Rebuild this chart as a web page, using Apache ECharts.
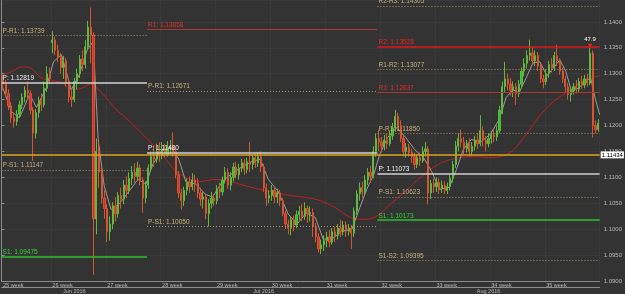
<!DOCTYPE html>
<html>
<head>
<meta charset="utf-8">
<script src="https://cdn.jsdelivr.net/npm/echarts@6/dist/echarts.min.js"></script>
<style>
  html, body { margin: 0; padding: 0; background: #333333; }
  #chart { width: 625px; height: 294px; }
</style>
</head>
<body>
<div id="chart"></div>
<script>
// weeks shown on the time strip, 5 trading days x 4 bars each
const weekNames = ['25 week', '26 week', '27 week', '28 week', '29 week', '30 week',
  '31 week', '32 week', '33 week', '34 week', '35 week'];
const firstMonday = [2016, 5, 13];
const barsPerDay = 4;
const hiddenBars = 2; // first bars of week 25 are scrolled off the left edge
const monthNames = ['Jan', 'Feb', 'Mar', 'Apr', 'May', 'Jun', 'Jul', 'Aug', 'Sep', 'Oct', 'Nov', 'Dec'];

// [open, close, low, high]
const candles = [
  [1.1290, 1.1280, 1.1268, 1.1298], [1.1280, 1.1262, 1.1255, 1.1288], [1.1262, 1.1238, 1.1230, 1.1270],
  [1.1238, 1.1215, 1.1205, 1.1245], [1.1215, 1.1208, 1.1196, 1.1225], [1.1208, 1.1222, 1.1200, 1.1230],
  [1.1222, 1.1240, 1.1215, 1.1248], [1.1240, 1.1255, 1.1232, 1.1262], [1.1255, 1.1268, 1.1245, 1.1276],
  [1.1268, 1.1262, 1.1250, 1.1285], [1.1262, 1.1230, 1.1222, 1.1268], [1.1230, 1.1185, 1.1132, 1.1236],
  [1.1185, 1.1225, 1.1175, 1.1232], [1.1225, 1.1248, 1.1215, 1.1256], [1.1248, 1.1240, 1.1228, 1.1262],
  [1.1240, 1.1272, 1.1235, 1.1285], [1.1272, 1.1300, 1.1265, 1.1315], [1.1300, 1.1290, 1.1280, 1.1312],
  // 26 week
  [1.1360, 1.1365, 1.1340, 1.1382], [1.1365, 1.1345, 1.1336, 1.1372], [1.1345, 1.1332, 1.1322, 1.1356],
  [1.1332, 1.1312, 1.1300, 1.1340], [1.1312, 1.1325, 1.1290, 1.1334], [1.1325, 1.1285, 1.1275, 1.1330],
  [1.1285, 1.1255, 1.1245, 1.1292], [1.1255, 1.1250, 1.1236, 1.1268], [1.1250, 1.1285, 1.1245, 1.1292],
  [1.1285, 1.1300, 1.1270, 1.1310], [1.1300, 1.1328, 1.1292, 1.1336], [1.1328, 1.1318, 1.1305, 1.1345],
  [1.1318, 1.1352, 1.1310, 1.1365], [1.1352, 1.1390, 1.1345, 1.1402], [1.1390, 1.1375, 1.1320, 1.1428],
  [1.1375, 1.1020, 1.0912, 1.1380], [1.1020, 1.1150, 1.0990, 1.1175], [1.1150, 1.1110, 1.1080, 1.1168],
  [1.1110, 1.1060, 1.1050, 1.1120], [1.1060, 1.1040, 1.1020, 1.1075],
  // 27 week
  [1.1040, 1.0995, 1.0975, 1.1048], [1.0995, 1.1010, 1.0978, 1.1025], [1.1010, 1.1045, 1.1000, 1.1052],
  [1.1045, 1.1030, 1.1015, 1.1062], [1.1030, 1.1065, 1.1022, 1.1072], [1.1065, 1.1058, 1.1040, 1.1080],
  [1.1058, 1.1085, 1.1048, 1.1095], [1.1085, 1.1075, 1.1060, 1.1102], [1.1075, 1.1098, 1.1068, 1.1110],
  [1.1098, 1.1110, 1.1085, 1.1122], [1.1110, 1.1102, 1.1090, 1.1128], [1.1102, 1.1118, 1.1095, 1.1130],
  [1.1118, 1.1095, 1.1085, 1.1125], [1.1095, 1.1060, 1.1032, 1.1100], [1.1060, 1.1085, 1.1050, 1.1092],
  [1.1085, 1.1118, 1.1078, 1.1125], [1.1118, 1.1140, 1.1110, 1.1150], [1.1140, 1.1135, 1.1120, 1.1162],
  [1.1135, 1.1150, 1.1128, 1.1165], [1.1150, 1.1142, 1.1130, 1.1168],
  // 28 week
  [1.1142, 1.1155, 1.1135, 1.1168], [1.1155, 1.1145, 1.1138, 1.1165], [1.1145, 1.1158, 1.1140, 1.1170],
  [1.1158, 1.1160, 1.1145, 1.1172], [1.1160, 1.1150, 1.1140, 1.1187], [1.1150, 1.1105, 1.1098, 1.1156],
  [1.1105, 1.1070, 1.1060, 1.1112], [1.1070, 1.1055, 1.1038, 1.1078], [1.1055, 1.1075, 1.1045, 1.1082],
  [1.1075, 1.1090, 1.1065, 1.1098], [1.1090, 1.1082, 1.1070, 1.1102], [1.1082, 1.1095, 1.1075, 1.1108],
  [1.1095, 1.1088, 1.1072, 1.1105], [1.1088, 1.1070, 1.1060, 1.1098], [1.1070, 1.1058, 1.1045, 1.1080],
  [1.1058, 1.1062, 1.1040, 1.1072], [1.1062, 1.1030, 1.1019, 1.1068], [1.1030, 1.1050, 1.1005, 1.1058],
  [1.1050, 1.1060, 1.1040, 1.1072], [1.1060, 1.1055, 1.1045, 1.1068],
  // 29 week
  [1.1055, 1.1078, 1.1048, 1.1085], [1.1078, 1.1072, 1.1060, 1.1090], [1.1072, 1.1095, 1.1065, 1.1102],
  [1.1095, 1.1110, 1.1088, 1.1120], [1.1110, 1.1085, 1.1078, 1.1118], [1.1085, 1.1100, 1.1075, 1.1110],
  [1.1100, 1.1120, 1.1092, 1.1128], [1.1120, 1.1105, 1.1098, 1.1130], [1.1105, 1.1118, 1.1096, 1.1126],
  [1.1118, 1.1128, 1.1110, 1.1136], [1.1128, 1.1115, 1.1105, 1.1135], [1.1115, 1.1130, 1.1108, 1.1138],
  [1.1130, 1.1125, 1.1110, 1.1168], [1.1125, 1.1138, 1.1115, 1.1145], [1.1138, 1.1128, 1.1118, 1.1146],
  [1.1128, 1.1140, 1.1120, 1.1148], [1.1140, 1.1120, 1.1110, 1.1150], [1.1120, 1.1080, 1.1072, 1.1126],
  [1.1080, 1.1060, 1.1045, 1.1088], [1.1060, 1.1065, 1.1050, 1.1075],
  // 30 week
  [1.1065, 1.1075, 1.1055, 1.1085], [1.1075, 1.1062, 1.1050, 1.1082], [1.1062, 1.1070, 1.1050, 1.1078],
  [1.1070, 1.1055, 1.1045, 1.1076], [1.1055, 1.1030, 1.1025, 1.1060], [1.1030, 1.1010, 1.1000, 1.1036],
  [1.1010, 1.1002, 1.0990, 1.1018], [1.1002, 1.1018, 1.0988, 1.1025], [1.1018, 1.1008, 1.0996, 1.1026],
  [1.1008, 1.1028, 1.1002, 1.1036], [1.1028, 1.1035, 1.1018, 1.1045], [1.1035, 1.1025, 1.1015, 1.1048],
  [1.1025, 1.1040, 1.1018, 1.1052], [1.1040, 1.1030, 1.1012, 1.1046], [1.1030, 1.1032, 1.1015, 1.1044],
  [1.1032, 1.1005, 1.0985, 1.1040], [1.1005, 1.0985, 1.0975, 1.1012], [1.0985, 1.0962, 1.0955, 1.0992],
  [1.0962, 1.0970, 1.0952, 1.0980], [1.0970, 1.0978, 1.0958, 1.0988],
  // 31 week
  [1.0978, 1.0985, 1.0965, 1.0995], [1.0985, 1.0975, 1.0965, 1.0998], [1.0975, 1.0995, 1.0970, 1.1002],
  [1.0995, 1.0988, 1.0975, 1.1005], [1.0988, 1.1002, 1.0980, 1.1010], [1.1002, 1.0995, 1.0985, 1.1018],
  [1.0995, 1.1008, 1.0988, 1.1016], [1.1008, 1.0996, 1.0985, 1.1015], [1.0996, 1.1002, 1.0988, 1.1010],
  [1.1002, 1.0992, 1.0962, 1.1008], [1.0992, 1.1035, 1.0985, 1.1042], [1.1035, 1.1068, 1.1028, 1.1075],
  [1.1068, 1.1080, 1.1055, 1.1090], [1.1080, 1.1072, 1.1060, 1.1092], [1.1072, 1.1095, 1.1065, 1.1104],
  [1.1095, 1.1110, 1.1085, 1.1118], [1.1110, 1.1102, 1.1090, 1.1122], [1.1102, 1.1150, 1.1098, 1.1160],
  [1.1150, 1.1175, 1.1140, 1.1185], [1.1175, 1.1168, 1.1150, 1.1192],
  // 32 week
  [1.1168, 1.1160, 1.1148, 1.1178], [1.1160, 1.1172, 1.1152, 1.1182], [1.1172, 1.1165, 1.1155, 1.1185],
  [1.1165, 1.1180, 1.1160, 1.1190], [1.1180, 1.1195, 1.1172, 1.1205], [1.1195, 1.1218, 1.1188, 1.1230],
  [1.1218, 1.1200, 1.1190, 1.1225], [1.1200, 1.1175, 1.1168, 1.1210], [1.1175, 1.1150, 1.1140, 1.1182],
  [1.1150, 1.1158, 1.1138, 1.1166], [1.1158, 1.1148, 1.1140, 1.1165], [1.1148, 1.1140, 1.1128, 1.1155],
  [1.1140, 1.1125, 1.1115, 1.1148], [1.1125, 1.1138, 1.1118, 1.1145], [1.1138, 1.1132, 1.1122, 1.1148],
  [1.1132, 1.1150, 1.1128, 1.1160], [1.1150, 1.1155, 1.1140, 1.1168], [1.1155, 1.1070, 1.1048, 1.1160],
  [1.1070, 1.1088, 1.1058, 1.1095], [1.1088, 1.1082, 1.1070, 1.1098],
  // 33 week
  [1.1082, 1.1090, 1.1072, 1.1100], [1.1090, 1.1078, 1.1068, 1.1098], [1.1078, 1.1085, 1.1070, 1.1094],
  [1.1085, 1.1075, 1.1068, 1.1092], [1.1075, 1.1082, 1.1068, 1.1090], [1.1082, 1.1098, 1.1075, 1.1105],
  [1.1098, 1.1125, 1.1090, 1.1132], [1.1125, 1.1160, 1.1118, 1.1170], [1.1160, 1.1175, 1.1150, 1.1185],
  [1.1175, 1.1168, 1.1158, 1.1192], [1.1168, 1.1155, 1.1145, 1.1178], [1.1155, 1.1165, 1.1148, 1.1172],
  [1.1165, 1.1150, 1.1140, 1.1175], [1.1150, 1.1160, 1.1142, 1.1168], [1.1160, 1.1172, 1.1152, 1.1180],
  [1.1172, 1.1165, 1.1155, 1.1185], [1.1165, 1.1190, 1.1160, 1.1220], [1.1190, 1.1172, 1.1160, 1.1198],
  [1.1172, 1.1165, 1.1150, 1.1180], [1.1165, 1.1175, 1.1158, 1.1185],
  // 34 week
  [1.1175, 1.1182, 1.1165, 1.1190], [1.1182, 1.1178, 1.1168, 1.1192], [1.1178, 1.1190, 1.1170, 1.1200],
  [1.1190, 1.1230, 1.1185, 1.1238], [1.1230, 1.1275, 1.1222, 1.1285], [1.1275, 1.1290, 1.1265, 1.1323],
  [1.1290, 1.1280, 1.1268, 1.1300], [1.1280, 1.1268, 1.1258, 1.1292], [1.1268, 1.1275, 1.1255, 1.1285],
  [1.1275, 1.1262, 1.1240, 1.1282], [1.1262, 1.1280, 1.1255, 1.1288], [1.1280, 1.1305, 1.1272, 1.1312],
  [1.1305, 1.1320, 1.1295, 1.1330], [1.1320, 1.1335, 1.1310, 1.1345], [1.1335, 1.1340, 1.1325, 1.1366],
  [1.1340, 1.1325, 1.1318, 1.1350], [1.1325, 1.1335, 1.1315, 1.1345], [1.1335, 1.1315, 1.1305, 1.1342],
  [1.1315, 1.1290, 1.1282, 1.1320], [1.1290, 1.1285, 1.1272, 1.1298],
  // 35 week
  [1.1285, 1.1300, 1.1278, 1.1308], [1.1300, 1.1318, 1.1292, 1.1325], [1.1318, 1.1312, 1.1302, 1.1330],
  [1.1312, 1.1335, 1.1305, 1.1342], [1.1335, 1.1325, 1.1315, 1.1356], [1.1325, 1.1305, 1.1298, 1.1330],
  [1.1305, 1.1290, 1.1282, 1.1312], [1.1290, 1.1275, 1.1265, 1.1296], [1.1275, 1.1260, 1.1250, 1.1282],
  [1.1260, 1.1268, 1.1246, 1.1274], [1.1268, 1.1275, 1.1260, 1.1282], [1.1275, 1.1270, 1.1262, 1.1288],
  [1.1270, 1.1285, 1.1265, 1.1292], [1.1285, 1.1278, 1.1270, 1.1296], [1.1278, 1.1290, 1.1272, 1.1298],
  [1.1290, 1.1282, 1.1275, 1.1300], [1.1282, 1.1340, 1.1278, 1.1350], [1.1340, 1.1200, 1.1177, 1.1345],
  [1.1200, 1.1192, 1.1185, 1.1210], [1.1192, 1.1205, 1.1188, 1.1212]
];

// fast moving average (grey), [bar position, price]
const fastMa = [
  [0, 1.1279], [3.6, 1.1227], [6.5, 1.1215], [10.2, 1.1260], [12.7, 1.1235], [16.3, 1.1273],
  [18.9, 1.1323], [21.8, 1.1337], [25.4, 1.1269], [28.3, 1.1298], [31.2, 1.1346], [33.4, 1.1362],
  [35.2, 1.1173], [37.4, 1.1083], [39.9, 1.1038], [42.8, 1.1048], [46.4, 1.1073], [49.7, 1.1096],
  [52.6, 1.1087], [55.1, 1.1125], [58, 1.1150], [61.7, 1.1158], [64.6, 1.1135], [67.1, 1.1092],
  [70.7, 1.1087], [74.4, 1.1067], [76.9, 1.1062], [80.5, 1.1092], [84.1, 1.1108], [87.8, 1.1121],
  [91.4, 1.1131], [94.3, 1.1135], [97.2, 1.1096], [100.8, 1.1073], [104.5, 1.1029], [107.7, 1.1010],
  [111, 1.1031], [114.3, 1.1023], [117.2, 1.0981], [120.4, 1.0981], [124, 1.0996], [127.7, 1.1000],
  [130.6, 1.1042], [133.1, 1.1077], [135.7, 1.1106], [137.8, 1.1144], [140.7, 1.1177], [144, 1.1196],
  [147.3, 1.1177], [150.5, 1.1154], [153.8, 1.1138], [156.7, 1.1112], [159.6, 1.1077], [163.2, 1.1081],
  [165.8, 1.1115], [168.3, 1.1154], [171.2, 1.1173], [174.8, 1.1169], [178.1, 1.1183], [181.4, 1.1212],
  [183.9, 1.1254], [186.4, 1.1269], [188.6, 1.1263], [191.2, 1.1292], [193.7, 1.1321], [196.2, 1.1323],
  [198.8, 1.1296], [201.3, 1.1312], [203.5, 1.1327], [205.7, 1.1304], [207.8, 1.1265], [210.4, 1.1273],
  [212.9, 1.1285], [214.7, 1.1292], [216.5, 1.1250], [218, 1.1221]
];

// slow moving average (red)
const slowMa = [
  [0, 1.1298], [3.6, 1.1304], [7.3, 1.1313], [10.2, 1.1312], [14.5, 1.1292], [18.1, 1.1287],
  [21.8, 1.1283], [24.3, 1.1273], [26.5, 1.1269], [29.7, 1.1273], [32.6, 1.1281], [34.5, 1.1273],
  [38.1, 1.1254], [41.7, 1.1231], [45.3, 1.1215], [49, 1.1196], [53.3, 1.1173], [56.9, 1.1154],
  [59.8, 1.1135], [63.5, 1.1112], [67.1, 1.1100], [72.5, 1.1092], [78, 1.1096], [83.4, 1.1092],
  [90.7, 1.1081], [97.9, 1.1073], [105.2, 1.1065], [114.3, 1.1058], [121.5, 1.1042], [127, 1.1023],
  [132.4, 1.1019], [136.7, 1.1025], [142.5, 1.1052], [148.7, 1.1081], [154.9, 1.1110], [160.7, 1.1129],
  [166.8, 1.1138], [173, 1.1140], [178.8, 1.1138], [183.2, 1.1142], [186.8, 1.1154], [191.2, 1.1183],
  [195.9, 1.1217], [200.6, 1.1244], [205.7, 1.1263], [210.4, 1.1281], [214, 1.1292], [218, 1.1296]
];

// monthly pivot levels
const junPivotNames = ['P-R1', 'P', 'P-S1', 'S1'];
const junPivotValues = [1.13739, 1.12819, 1.11147, 1.09475];
const julPivotNames = ['R1', 'P-R1', 'P', 'P-S1'];
const julPivotValues = [1.13858, 1.12671, 1.11480, 1.10050];
const augPivotNames = ['R2-R3', 'R2', 'R1-R2', 'R1', 'P-R1', 'P', 'P-S1', 'S1', 'S1-S2'];
const augPivotValues = [1.14305, 1.13528, 1.13077, 1.12637, 1.11850, 1.11073, 1.10623, 1.10173, 1.09395];

const lastPrice = 1.11434;
const spikeLabel = '47.9';
const spikeBar = 214;

const font = 'Liberation Sans';

// build the bar timeline
const bars = [];
for (let w = 0; w < weekNames.length; w++) {
  for (let d = 0; d < 5; d++) {
    for (let s = 0; s < barsPerDay; s++) {
      const dt = new Date(Date.UTC(firstMonday[0], firstMonday[1], firstMonday[2] + w * 7 + d, s * 24 / barsPerDay));
      bars.push({ date: dt, week: w, newWeek: d === 0 && s === 0 });
    }
  }
}
const shown = bars.slice(hiddenBars);
const categories = shown.map((b) => b.date.toISOString().slice(0, 13));
const monthKey = (b) => b.date.getUTCFullYear() * 12 + b.date.getUTCMonth();

const monthStarts = [];
const monthMids = {};
let runStart = 0;
shown.forEach((b, i) => {
  if (i > 0 && monthKey(b) !== monthKey(shown[i - 1])) {
    monthStarts.push(i);
    monthMids[Math.floor((runStart + i - 1) / 2)] = shown[i - 1];
    runStart = i;
  }
  if (i === shown.length - 1) monthMids[Math.floor((runStart + i) / 2)] = b;
});

const isWeekLabel = (i) => i === 0 || shown[i].newWeek;

function pivotLook(name) {
  if (name.includes('-')) return { line: { color: '#a8956a', type: [1, 2], width: 1 }, text: '#c9b27c' };
  if (name === 'P') return { line: { color: '#d0d0d0', type: 'solid', width: 1.5 }, text: '#f2f2f2' };
  if (name === 'R2') return { line: { color: '#e01818', type: 'solid', width: 1.5 }, text: '#f02020' };
  if (name.startsWith('R')) return { line: { color: '#a83a30', type: 'solid', width: 1 }, text: '#e03030' };
  return { line: { color: '#2cc12c', type: 'solid', width: 1.5 }, text: '#35d335' };
}

function pivotLines(names, values, from, to) {
  return names.map((n, k) => {
    const look = pivotLook(n);
    return [
      {
        coord: [from, values[k]],
        lineStyle: look.line,
        label: {
          show: true,
          position: 'insideStartTop',
          distance: [1, 1],
          formatter: n + ': ' + values[k].toFixed(5),
          color: look.text,
          fontSize: 6.5,
          fontFamily: font,
        },
      },
      { coord: [to, values[k]] },
    ];
  });
}

const segA = 0;
const segB = monthStarts[0] - 1;
const segC = monthStarts[1] - 1;
const segEnd = categories.length;

const chart = echarts.init(document.getElementById('chart'));
chart.setOption({
  animation: false,
  backgroundColor: '#333333',
  grid: { left: 0, right: 24, top: 0, bottom: 12 },
  xAxis: [
    {
      type: 'category',
      data: categories,
      boundaryGap: true,
      axisLine: { lineStyle: { color: '#8c8c8c' } },
      axisTick: { interval: (i) => isWeekLabel(i), length: 6, lineStyle: { color: '#8c8c8c' } },
      axisLabel: {
        interval: (i) => isWeekLabel(i),
        formatter: (v, i) => weekNames[shown[i].week],
        align: 'left',
        margin: 1,
        fontSize: 5.5,
        color: '#b8b8b8',
        fontFamily: font,
      },
      splitLine: { show: true, interval: (i) => isWeekLabel(i), lineStyle: { color: '#3a3a3a' } },
    },
    {
      type: 'category',
      data: categories,
      position: 'bottom',
      offset: 6,
      boundaryGap: true,
      axisLine: { lineStyle: { color: '#8c8c8c' } },
      axisTick: { interval: (i) => monthStarts.includes(i), length: 6, lineStyle: { color: '#8c8c8c' } },
      axisLabel: {
        interval: (i) => monthMids[i] !== undefined,
        formatter: (v, i) => {
          const b = monthMids[i];
          return monthNames[b.date.getUTCMonth()] + ' ' + b.date.getUTCFullYear();
        },
        margin: 1,
        fontSize: 5.5,
        color: '#b8b8b8',
        fontFamily: font,
      },
    },
    { type: 'value', min: 0, max: categories.length, show: false },
  ],
  yAxis: {
    type: 'value',
    position: 'right',
    min: 1.09,
    max: 1.14423,
    interval: 0.005,
    axisLine: { show: true, lineStyle: { color: '#8c8c8c' } },
    axisTick: { show: true, length: 3, lineStyle: { color: '#8c8c8c' } },
    axisLabel: {
      formatter: (v) => v.toFixed(4),
      margin: 4,
      fontSize: 6,
      color: '#b8b8b8',
      fontFamily: font,
      showMaxLabel: false,
    },
    splitLine: { show: true, lineStyle: { color: '#3a3a3a' } },
  },
  series: [
    {
      name: 'slow',
      type: 'line',
      xAxisIndex: 2,
      data: slowMa,
      showSymbol: false,
      smooth: 0.3,
      lineStyle: { color: '#c0201e', width: 1 },
      z: 3,
    },
    {
      name: 'fast',
      type: 'line',
      xAxisIndex: 2,
      data: fastMa,
      showSymbol: false,
      lineStyle: { color: '#9a9a9a', width: 1 },
      z: 3,
      markLine: {
        silent: true,
        symbol: ['none', 'none'],
        data: [
          ...pivotLines(junPivotNames, junPivotValues, segA, segB),
          ...pivotLines(julPivotNames, julPivotValues, segB, segC),
          ...pivotLines(augPivotNames, augPivotValues, segC, segEnd),
          [
            {
              coord: [segA, lastPrice],
              lineStyle: { color: '#d9a41c', type: 'solid', width: 1.5 },
              label: {
                show: true,
                position: 'end',
                distance: 1,
                formatter: lastPrice.toFixed(5),
                backgroundColor: '#ffffff',
                color: '#000000',
                fontSize: 6,
                padding: [1, 1, 0, 1],
                fontFamily: font,
              },
            },
            { coord: [segEnd, lastPrice] },
          ],
        ],
      },
    },
    {
      name: 'price',
      type: 'candlestick',
      xAxisIndex: 0,
      data: candles,
      barWidth: 1.7,
      itemStyle: {
        color: '#25c425',
        color0: '#e5262a',
        borderColor: '#62b83c',
        borderColor0: '#d4562e',
        borderWidth: 1,
      },
      z: 4,
      markPoint: {
        silent: true,
        symbol: 'triangle',
        symbolRotate: 180,
        symbolSize: [5, 4],
        itemStyle: { color: '#e02020' },
        data: [{ coord: [spikeBar, candles[spikeBar][3]], symbolOffset: [0, -2] }],
        label: {
          show: true,
          position: 'top',
          distance: 1,
          formatter: spikeLabel,
          color: '#ffffff',
          fontSize: 6,
          fontFamily: font,
        },
      },
    },
  ],
});
</script>
</body>
</html>
